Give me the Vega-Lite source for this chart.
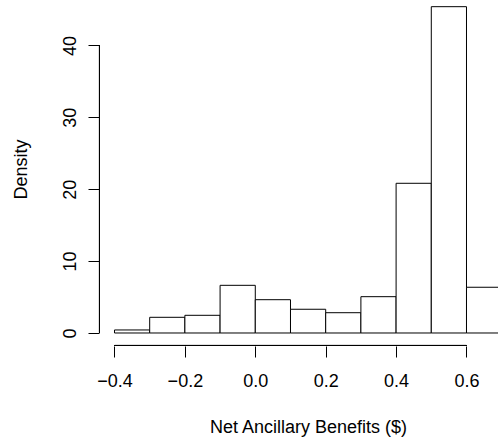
{
  "$schema": "https://vega.github.io/schema/vega-lite/v6.json",
  "autosize": {"type": "none"},
  "padding": {"left": 99, "top": 0, "right": 0, "bottom": 95},
  "width": 399,
  "height": 346,
  "background": "white",
  "config": {"view": {"stroke": null}, "font": "Liberation Sans"},
  "data": {"values": [
    {"start": -0.4, "end": -0.3, "density": 0.42},
    {"start": -0.3, "end": -0.2, "density": 2.18},
    {"start": -0.2, "end": -0.1, "density": 2.46},
    {"start": -0.1, "end": 0.0, "density": 6.63},
    {"start": 0.0, "end": 0.1, "density": 4.63},
    {"start": 0.1, "end": 0.2, "density": 3.3},
    {"start": 0.2, "end": 0.3, "density": 2.82},
    {"start": 0.3, "end": 0.4, "density": 5.05},
    {"start": 0.4, "end": 0.5, "density": 20.82},
    {"start": 0.5, "end": 0.6, "density": 45.38},
    {"start": 0.6, "end": 0.7, "density": 6.36}
  ]},
  "layer": [
    {
      "mark": {"type": "bar", "fill": "white", "stroke": "black", "strokeWidth": 1, "clip": true},
      "encoding": {
        "x": {"field": "start", "type": "quantitative",
          "scale": {"domain": [-0.444, 0.6895], "nice": false, "zero": false},
          "axis": {"values": [-0.4, -0.2, 0, 0.2, 0.4, 0.6], "format": ".1f", "domain": false, "grid": false,
            "tickSize": 11, "tickColor": "black", "tickWidth": 1,
            "labelFontSize": 18, "labelColor": "black", "labelPadding": 15, "labelBaseline": "top", "labelFlush": false,
            "title": "Net Ancillary Benefits ($)", "titleFontSize": 18, "titleFontWeight": "normal", "titleColor": "black",
            "titleAnchor": null, "titleX": 209, "titleY": 86, "titleAlign": "center", "titleBaseline": "alphabetic"}},
        "x2": {"field": "end"},
        "y": {"field": "density", "type": "quantitative",
          "scale": {"domain": [-1.81, 46.31], "nice": false, "zero": false},
          "axis": {"values": [0, 10, 20, 30, 40], "domain": false, "grid": false,
            "tickSize": 11, "tickColor": "black", "tickWidth": 1,
            "labelFontSize": 18, "labelColor": "black", "labelAngle": -90, "labelAlign": "center", "labelBaseline": "alphabetic", "labelPadding": 13, "labelFlush": false,
            "title": "Density", "titleFontSize": 18, "titleFontWeight": "normal", "titleColor": "black",
            "titleAnchor": null, "titleAngle": -90, "titleX": -73, "titleY": 169, "titleAlign": "center", "titleBaseline": "alphabetic"}},
        "y2": {"datum": 0}
      }
    },
    {
      "mark": {"type": "rule", "color": "black", "strokeWidth": 1},
      "encoding": {
        "x": {"datum": -0.4, "type": "quantitative"},
        "x2": {"datum": 0.6},
        "y": {"datum": -1.74, "type": "quantitative"}
      }
    },
    {
      "mark": {"type": "rule", "color": "black", "strokeWidth": 1},
      "encoding": {
        "x": {"datum": -0.4426, "type": "quantitative"},
        "y": {"datum": 0, "type": "quantitative"},
        "y2": {"datum": 40}
      }
    }
  ]
}
